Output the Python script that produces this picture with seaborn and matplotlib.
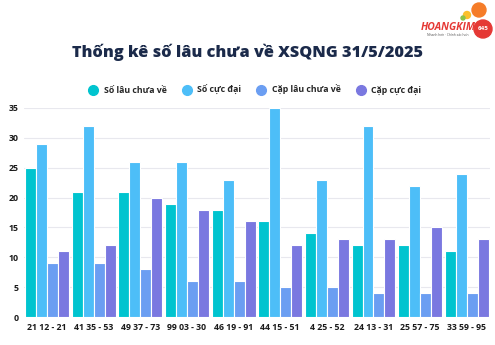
import matplotlib
matplotlib.use("Agg")
import matplotlib.pyplot as plt
import seaborn as sns
import pandas as pd
from matplotlib.lines import Line2D
from matplotlib.patches import Circle

categories = ["21 12 - 21", "41 35 - 53", "49 37 - 73", "99 03 - 30", "46 19 - 91",
              "44 15 - 51", "4 25 - 52", "24 13 - 31", "25 57 - 75", "33 59 - 95"]
so_lau = [25, 21, 21, 19, 18, 16, 14, 12, 12, 11]
so_cuc_dai = [29, 32, 26, 26, 23, 35, 23, 32, 22, 24]
cap_lau = [9, 9, 8, 6, 6, 5, 5, 4, 4, 4]
cap_cuc_dai = [11, 12, 20, 18, 16, 12, 13, 13, 15, 13]
series_names = ["Số lâu chưa về", "Số cực đại", "Cặp lâu chưa về", "Cặp cực đại"]
colors = ["#00C4CF", "#4DBEF8", "#6B9EF2", "#7A78E0"]

rows = []
for name, vals in zip(series_names, [so_lau, so_cuc_dai, cap_lau, cap_cuc_dai]):
    for c, v in zip(categories, vals):
        rows.append({"cat": c, "series": name, "value": v})
df = pd.DataFrame(rows)

sns.set_style("white")
plt.rcParams['font.family'] = ['Open Sans', 'DejaVu Sans']

W, H = 495, 345
fig = plt.figure(figsize=(4.95, 3.45), dpi=100)
ax = fig.add_axes([0.048, 0.081, 0.942, 0.606])
sns.barplot(data=df, x="cat", y="value", hue="series", palette=colors,
            width=0.94, edgecolor="white", linewidth=0.8, ax=ax, legend=False, saturation=1)
ax.set_ylim(0, 35)
ax.set_yticks(range(0, 36, 5))
ax.yaxis.grid(True, color="#e8e8ee", linewidth=0.8)
ax.set_axisbelow(True)
for s in ax.spines.values():
    s.set_visible(False)
ax.set_xlabel("")
ax.set_ylabel("")
ax.tick_params(axis="both", length=0, labelsize=6.3, colors="#1a1a1a", pad=4)
for lab in ax.get_xticklabels() + ax.get_yticklabels():
    lab.set_fontweight("bold")
ax.set_xlim(-0.5, 9.5)

fig.text(0.50, 0.848, "Thống kê số lâu chưa về XSQNG 31/5/2025", ha="center", va="center",
         fontsize=11.7, fontweight="heavy", color="#1B2A4A")

handles = [Line2D([0], [0], marker="o", linestyle="", markersize=7, markerfacecolor=c,
                  markeredgecolor=c) for c in colors]
fig.legend(handles, series_names, loc="center", bbox_to_anchor=(0.511, 0.74), ncol=4,
           frameon=False, handletextpad=0.2, columnspacing=1.3,
           prop={"weight": "bold", "size": 6.3})

# logo in pixel-coordinate axes
lx0, ly0, lw, lh = 410, 0, 85, 45
lax = fig.add_axes([lx0 / W, 1 - (ly0 + lh) / H, lw / W, lh / H])
lax.set_xlim(0, lw)
lax.set_ylim(lh, 0)
lax.axis("off")
for (x, y, r, c) in [(73, 29, 9, "#E53935"), (69, 10, 7, "#F57C28"),
                     (57, 15, 3.5, "#FBC02D"), (53, 18, 2, "#8BC34A")]:
    lax.add_patch(Circle((x, y), r, color=c, zorder=5))
lax.text(73, 29, "645", ha="center", va="center", fontsize=4.5, fontweight="bold",
         color="white", zorder=6)
lax.text(38, 28, "HOANGKIM", ha="center", va="center", fontsize=7.5, fontweight="bold",
         fontstyle="italic", color="#E53935", zorder=4)
lax.text(38, 35, "Nhanh hơn · Chính xác hơn", ha="center", va="center", fontsize=2.3,
         color="#555555")

fig.savefig("out.png", dpi=100)
